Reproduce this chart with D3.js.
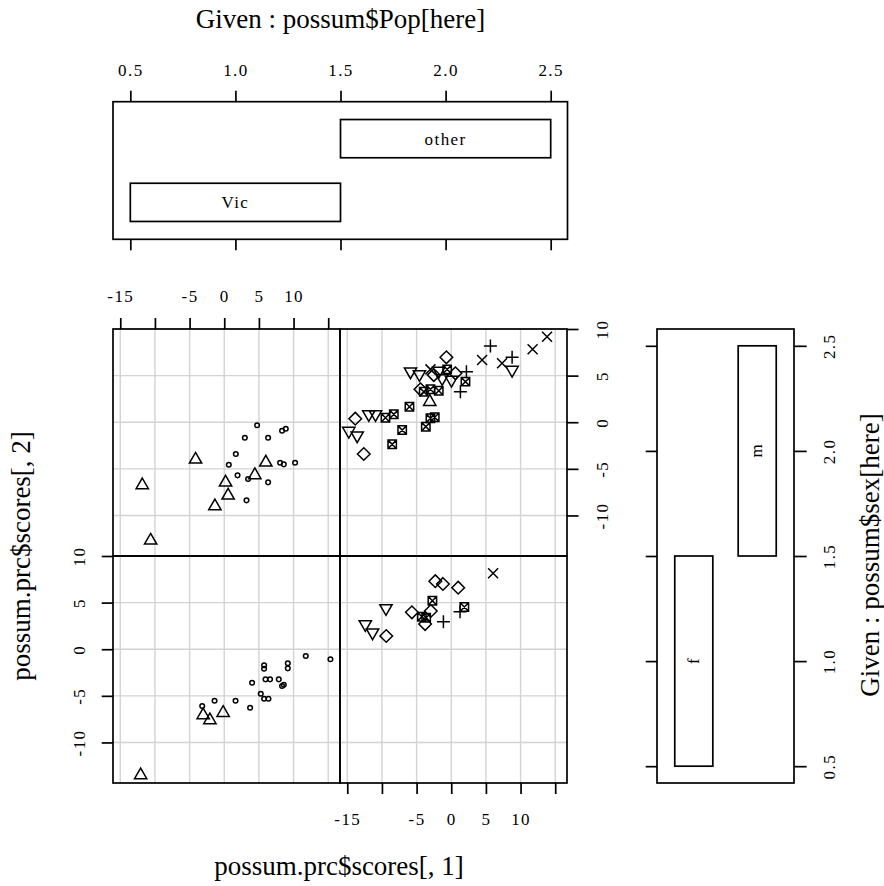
<!DOCTYPE html>
<html><head><meta charset="utf-8">
<script src="https://cdn.jsdelivr.net/npm/d3@7"></script>
<style>
body{margin:0;background:#fff}
svg{display:block}
text{font-family:"Liberation Serif","Times New Roman",serif;fill:#000}
</style>
</head><body><svg id="c" width="884" height="886"></svg>
<script>
// ---- axis / tick data ----
const xDomain = [-16.05, 16.7];
const yDomain = [-14.35, 10.0];
const xTicks = [-15, -10, -5, 0, 5, 10, 15];
const xTickLabels = ["-15", "", "-5", "0", "5", "10", ""];
const yTicks = [-10, -5, 0, 5, 10];
const yTickLabels = ["-10", "-5", "0", "5", "10"];
const condDomain = [0.42, 2.58];
const condTicks = [0.5, 1.0, 1.5, 2.0, 2.5];
const condTickLabels = ["0.5", "1.0", "1.5", "2.0", "2.5"];
const popLevels = ["Vic", "other"];
const popIntervals = [[0.5, 1.5], [1.5, 2.5]];
const sexLevels = ["f", "m"];
const sexIntervals = [[0.5, 1.5], [1.5, 2.5]];

// ---- points: [scores1, scores2, pch] ----
const vicMale = [
  [-4.14,-3.81,2],[-11.83,-6.56,2],[-10.62,-12.5,2],[0.19,-6.27,2],[0.56,-7.67,2],
  [-1.35,-8.81,2],[4.41,-5.48,2],[6.0,-4.13,2],
  [4.74,-0.33,1],[2.97,-1.66,1],[6.33,-1.66,1],[8.34,-0.91,1],[8.88,-0.70,1],
  [1.67,-3.41,1],[0.66,-4.56,1],[1.92,-5.70,1],[3.44,-6.09,1],[6.33,-6.45,1],
  [3.21,-8.38,1],[8.06,-4.34,1],[8.59,-4.52,1],[10.22,-4.34,1]
];
const vicFemale = [
  [-12.06,-13.32,2],[-3.04,-6.88,2],[-2.07,-7.42,2],[-0.16,-6.63,2],
  [-3.18,-6.09,1],[-1.40,-5.53,1],[1.63,-5.53,1],[3.73,-6.28,1],[4.02,-3.59,1],
  [5.27,-4.77,1],[5.75,-5.31,1],[6.38,-5.31,1],[5.75,-1.73,1],[5.75,-2.09,1],
  [5.95,-3.23,1],[6.61,-3.23,1],[7.87,-3.23,1],[8.34,-3.95,1],[8.59,-3.81,1],
  [9.17,-1.51,1],[9.17,-2.05,1],[11.76,-0.73,1],[15.32,-1.08,1]
];
const otherMale = [
  [-13.85,0.38,5],[-14.78,-1.12,6],[-13.57,-1.62,6],[-12.62,-3.41,5],[-11.9,0.67,6],
  [-10.93,0.67,6],[-9.49,0.48,7],[-8.29,0.85,7],[-7.08,-0.84,7],[-8.52,-2.37,7],
  [-6.03,1.66,7],[-5.88,5.25,6],[-4.59,4.96,6],[-4.44,3.53,5],[-3.97,3.27,7],
  [-3.0,3.53,7],[-3.1,2.38,2],[-1.8,3.38,7],[-3.0,5.67,4],[-1.8,5.31,6],
  [-2.52,5.06,5],[-0.59,5.67,7],[-0.7,6.96,5],[-1.31,4.53,6],[0.03,4.35,6],
  [0.6,5.25,5],[2.19,5.42,3],[2.05,4.35,7],[1.32,3.27,3],[-3.0,0.42,7],
  [-2.38,0.53,7],[-3.67,-0.48,7],[4.45,6.67,4],[5.65,8.18,3],[7.33,6.32,4],
  [8.78,6.96,3],[8.78,5.42,6],[11.74,7.82,4],[13.82,9.17,4]
];
const otherFemale = [
  [6.04,8.14,4],[-9.42,4.21,6],[-12.4,2.49,6],[-11.35,1.6,6],[-9.38,1.42,5],
  [-5.68,3.96,5],[-4.24,3.49,7],[-3.62,3.38,7],[-3.77,2.70,5],[-2.95,4.1,5],
  [-2.72,5.2,7],[-1.13,2.95,3],[1.27,4.03,3],[1.89,4.53,7],
  [-2.3,7.3,5],[-1.2,7.0,5],[1.0,6.6,5]
];

// ---- layout ----
const svg = d3.select("#c");
const colX = [[113, 340], [340, 567]];     // Vic, other
const rowY = [[556, 783], [329, 556]];     // f (bottom), m (top)
const panels = [
  {data: vicFemale, c: 0, r: 0}, {data: otherFemale, c: 1, r: 0},
  {data: vicMale, c: 0, r: 1}, {data: otherMale, c: 1, r: 1}
];
const LW = 1.7, GRID = "#d3d3d3", MW = 1.5;
const tickFont = "17px", labFont = "27px";

const shapes = {
  2: "M0,-5.35L6.15,5.35L-6.15,5.35Z",
  3: "M-6.5,0H6.5M0,-6.5V6.5",
  4: "M-5,-5L5,5M-5,5L5,-5",
  5: "M0,-6.3L6.3,0L0,6.3L-6.3,0Z",
  6: "M0,5.35L6.15,-5.35L-6.15,-5.35Z",
  7: "M-4.2,-4.2H4.2V4.2H-4.2ZM-4.2,-4.2L4.2,4.2M-4.2,4.2L4.2,-4.2"
};

const xs = colX.map(r => d3.scaleLinear().domain(xDomain).range(r));
const ys = rowY.map(r => d3.scaleLinear().domain(yDomain).range([r[1], r[0]]));

panels.forEach(p => {
  const x = xs[p.c], y = ys[p.r];
  const g = svg.append("g");
  g.selectAll(".gv").data(xTicks).join("line")
    .attr("x1", d => x(d)).attr("x2", d => x(d))
    .attr("y1", y.range()[0]).attr("y2", y.range()[1])
    .attr("stroke", GRID).attr("stroke-width", 1.4);
  g.selectAll(".gh").data(yTicks).join("line")
    .attr("y1", d => y(d)).attr("y2", d => y(d))
    .attr("x1", x.range()[0]).attr("x2", x.range()[1])
    .attr("stroke", GRID).attr("stroke-width", 1.4);
  p.data.forEach(d => {
    if (d[2] === 1) {
      g.append("circle").attr("cx", x(d[0])).attr("cy", y(d[1])).attr("r", 2.3)
        .attr("fill", "none").attr("stroke", "#000").attr("stroke-width", MW);
    } else {
      g.append("path").attr("d", shapes[d[2]])
        .attr("transform", `translate(${x(d[0])},${y(d[1])})`)
        .attr("fill", "none").attr("stroke", "#000").attr("stroke-width", MW)
        .attr("stroke-linejoin", "miter");
    }
  });
  g.append("rect").attr("x", x.range()[0]).attr("y", y.range()[1])
    .attr("width", x.range()[1] - x.range()[0]).attr("height", y.range()[0] - y.range()[1])
    .attr("fill", "none").attr("stroke", "#000").attr("stroke-width", LW);
});

function styleAxis(g) {
  g.select(".domain").remove();
  g.selectAll(".tick line").attr("stroke", "#000").attr("stroke-width", LW);
  g.selectAll("text").style("font-size", tickFont).style("letter-spacing", "1.4px");
}
function fmt(ticks, labels) { return d => labels[ticks.indexOf(d)]; }

// top axis over left column
svg.append("g").attr("transform", "translate(0,329)")
  .call(d3.axisTop(xs[0]).tickValues(xTicks).tickFormat(fmt(xTicks, xTickLabels)).tickSize(11))
  .call(styleAxis)
  .call(g => g.selectAll("text").attr("y", -27).attr("dy", 0));
// bottom axis under right column
svg.append("g").attr("transform", "translate(0,783)")
  .call(d3.axisBottom(xs[1]).tickValues(xTicks).tickFormat(fmt(xTicks, xTickLabels)).tickSize(11))
  .call(styleAxis)
  .call(g => g.selectAll("text").attr("y", 42).attr("dy", 0));
// left axis on bottom row
svg.append("g").attr("transform", "translate(113,0)")
  .call(d3.axisLeft(ys[0]).tickValues(yTicks).tickFormat(fmt(yTicks, yTickLabels)).tickSize(11.3))
  .call(styleAxis)
  .call(g => g.selectAll("text").attr("x", 0).attr("dy", 0)
    .attr("text-anchor", "middle").attr("transform", "translate(-28,0) rotate(-90)"));
// right axis on top row
svg.append("g").attr("transform", "translate(567,0)")
  .call(d3.axisRight(ys[1]).tickValues(yTicks).tickFormat(fmt(yTicks, yTickLabels)).tickSize(11.5))
  .call(styleAxis)
  .call(g => g.selectAll("text").attr("x", 0).attr("dy", 0)
    .attr("text-anchor", "middle").attr("transform", "translate(41,0) rotate(-90)"));

// ---- top conditioning panel (Pop) ----
const cTop = 101.7, cBot = 239.3;
const cx = d3.scaleLinear().domain(condDomain).range([113.5, 567.5]);
const cy = d3.scaleLinear().domain(condDomain).range([cBot, cTop]);
svg.append("rect").attr("x", 113).attr("y", cTop).attr("width", 454.5).attr("height", cBot - cTop)
  .attr("fill", "none").attr("stroke", "#000").attr("stroke-width", LW);
popIntervals.forEach((iv, i) => {
  svg.append("rect").attr("x", cx(iv[0])).attr("y", cy(i + 1 + 0.3))
    .attr("width", cx(iv[1]) - cx(iv[0])).attr("height", cy(i + 1 - 0.3) - cy(i + 1 + 0.3))
    .attr("fill", "none").attr("stroke", "#000").attr("stroke-width", LW);
  svg.append("text").attr("x", cx((iv[0] + iv[1]) / 2)).attr("y", cy(i + 1) + 6)
    .attr("text-anchor", "middle").style("font-size", tickFont).style("letter-spacing", "1.4px")
    .text(popLevels[i]);
});
svg.append("g").attr("transform", `translate(0,${cTop})`)
  .call(d3.axisTop(cx).tickValues(condTicks).tickFormat(fmt(condTicks, condTickLabels)).tickSize(11))
  .call(styleAxis)
  .call(g => g.selectAll("text").attr("y", -25.7).attr("dy", 0));
svg.append("g").attr("transform", `translate(0,${cBot})`)
  .call(d3.axisBottom(cx).tickValues(condTicks).tickFormat("").tickSize(11))
  .call(styleAxis);

// ---- right conditioning panel (sex) ----
const rx = d3.scaleLinear().domain(condDomain).range([657, 794]);
const ry = d3.scaleLinear().domain(condDomain).range([783, 329]);
svg.append("rect").attr("x", 657).attr("y", 329).attr("width", 137).attr("height", 454)
  .attr("fill", "none").attr("stroke", "#000").attr("stroke-width", LW);
sexIntervals.forEach((iv, i) => {
  svg.append("rect").attr("x", rx(i + 1 - 0.3)).attr("y", ry(iv[1]))
    .attr("width", rx(i + 1 + 0.3) - rx(i + 1 - 0.3)).attr("height", ry(iv[0]) - ry(iv[1]))
    .attr("fill", "none").attr("stroke", "#000").attr("stroke-width", LW);
  const tx = rx(i + 1) + 5, ty = ry((iv[0] + iv[1]) / 2);
  svg.append("text").attr("transform", `translate(${tx},${ty}) rotate(-90)`)
    .attr("text-anchor", "middle").style("font-size", tickFont).text(sexLevels[i]);
});
svg.append("g").attr("transform", "translate(657,0)")
  .call(d3.axisLeft(ry).tickValues(condTicks).tickFormat("").tickSize(11.3))
  .call(styleAxis);
svg.append("g").attr("transform", "translate(794,0)")
  .call(d3.axisRight(ry).tickValues(condTicks).tickFormat(fmt(condTicks, condTickLabels)).tickSize(12.7))
  .call(styleAxis)
  .call(g => g.selectAll("text").attr("x", 0).attr("dy", 0)
    .attr("text-anchor", "middle").attr("transform", "translate(41,0) rotate(-90)"));

// ---- titles ----
svg.append("text").attr("x", 340.5).attr("y", 28).attr("text-anchor", "middle")
  .style("font-size", labFont).text("Given : possum$Pop[here]");
svg.append("text").attr("x", 339).attr("y", 875).attr("text-anchor", "middle")
  .style("font-size", labFont).text("possum.prc$scores[, 1]");
svg.append("text").attr("transform", "translate(30,556) rotate(-90)").attr("text-anchor", "middle")
  .style("font-size", labFont).text("possum.prc$scores[, 2]");
svg.append("text").attr("transform", "translate(879,555) rotate(-90)").attr("text-anchor", "middle")
  .style("font-size", labFont).text("Given : possum$sex[here]");
</script></body></html>
